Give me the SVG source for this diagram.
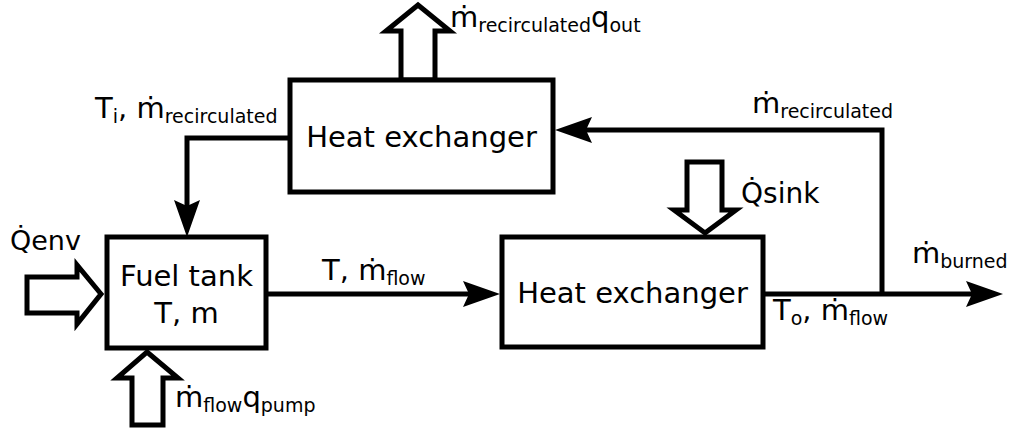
<svg xmlns="http://www.w3.org/2000/svg" width="1011" height="431" viewBox="0 0 1011 431">
<style>
.box{fill:#fff;stroke:#000;stroke-width:5}
.big{fill:#fff;stroke:#000;stroke-width:5;stroke-linejoin:miter}
.con{fill:none;stroke:#000;stroke-width:5;marker-end:url(#ah)}
.t{font-family:"DejaVu Sans",sans-serif;font-size:29px;fill:#000}
.s{font-size:19px}
.c{text-anchor:middle}
</style>
<defs>
<marker id="ah" markerUnits="userSpaceOnUse" markerWidth="42" markerHeight="32" viewBox="-40 -16 42 32" refX="-10" refY="0" orient="auto">
<path d="M0,0 L-37,-13 L-31,0 L-37,13 Z" fill="#000"/>
</marker>
</defs>
<rect width="1011" height="431" fill="#fff"/>
<g id="connectors">
<path class="con" d="M266,294 H490"/>
<path class="con" d="M763,294 H993"/>
<path class="con" d="M882,294 V130 H565"/>
<path class="con" d="M290,138 H187 V227"/>
</g>
<g id="heat-out">
<polygon class="big" points="418,5 450,31 435,31 435,80 401,80 401,31 386,31"/>
<text class="t" x="450" y="27">ṁ<tspan class="s" dy="5">recirculated</tspan><tspan dy="-5">q</tspan><tspan class="s" dy="5">out</tspan></text>
</g>
<g id="heat-exchanger-top">
<rect class="box" x="290" y="80" width="263" height="112"/>
<text class="t c" x="421.5" y="147">Heat exchanger</text>
</g>
<g id="fuel-tank">
<rect class="box" x="107" y="237" width="159" height="111"/>
<text class="t c" x="186.5" y="286">Fuel tank</text>
<text class="t c" x="186.5" y="323">T, m</text>
</g>
<g id="heat-exchanger-bottom">
<rect class="box" x="502" y="237" width="261" height="110"/>
<text class="t c" x="632.5" y="303">Heat exchanger</text>
</g>
<g id="q-env">
<polygon class="big" points="101,294 77,265 77,277 27,277 27,313 77,313 77,324"/>
<text class="t" x="10" y="250" style="font-size:27px">Q̇env</text>
</g>
<g id="pump">
<polygon class="big" points="147,352 178,378 163,378 163,425 132,425 132,378 117,378"/>
<text class="t" x="175" y="407">ṁ<tspan class="s" dy="5">flow</tspan><tspan dy="-5">q</tspan><tspan class="s" dy="5">pump</tspan></text>
</g>
<g id="q-sink">
<polygon class="big" points="705,233 736,210 722,210 722,162 687,162 687,210 674,210"/>
<text class="t" x="741" y="203" style="font-size:28px">Q̇sink</text>
</g>
<g id="labels">
<text class="t" x="95" y="118">T<tspan class="s" dy="5">i</tspan><tspan dy="-5">, ṁ</tspan><tspan class="s" dy="5">recirculated</tspan></text>
<text class="t" x="322" y="280">T, ṁ<tspan class="s" dy="5">flow</tspan></text>
<text class="t" x="773" y="320">T<tspan class="s" dy="5">o</tspan><tspan dy="-5">, ṁ</tspan><tspan class="s" dy="5">flow</tspan></text>
<text class="t" x="752" y="113">ṁ<tspan class="s" dy="5">recirculated</tspan></text>
<text class="t" x="912" y="263">ṁ<tspan class="s" dy="5">burned</tspan></text>
</g>
</svg>
